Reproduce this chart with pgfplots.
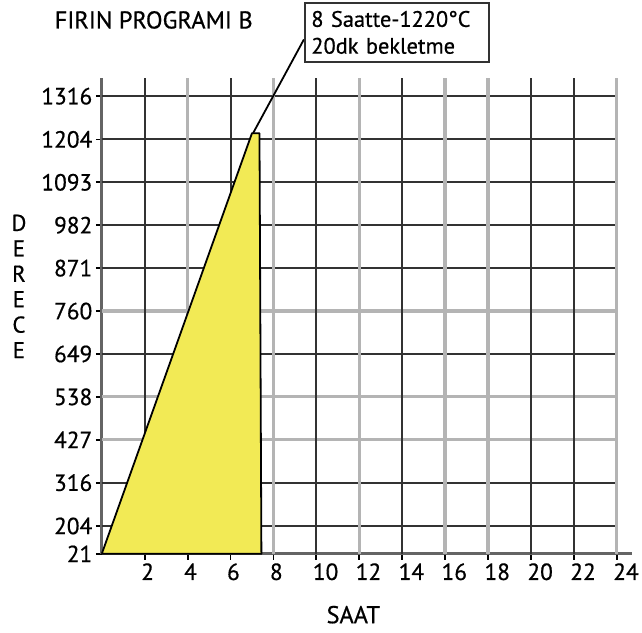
\documentclass[border=0pt]{standalone}
\usepackage{pgfplots}
\pgfplotsset{compat=1.18}
\usepackage{fontspec}
\setmainfont{PT Sans}[FakeBold=0.6]
\definecolor{fillyellow}{RGB}{242,234,85}
\definecolor{darkgrid}{RGB}{50,50,50}
\definecolor{lightgrid}{RGB}{180,180,180}
\definecolor{axisgray}{RGB}{100,100,100}
\tikzset{dk/.style={draw=darkgrid, line width=2bp}, lt/.style={draw=lightgrid, line width=3.2bp}}
\begin{document}
\begin{tikzpicture}
\begin{axis}[
  scale only axis,
  x=21.5bp, y=0.38739bp,
  xmin=0, xmax=24.7, ymin=132, ymax=1363,
  axis lines=left,
  axis line style={-, line width=3bp, draw=axisgray},
  xtick={2,4,...,24},
  ytick={132,204,316,427,538,649,760,871,982,1093,1204,1316},
  yticklabels={21,204,316,427,538,649,760,871,982,1093,1204,1316},
  tick align=outside,
  major tick length=6bp,
  tick style={line width=1.8bp, black},
  /pgf/number format/assume math mode=true,
  tick label style={font=\fontsize{23.5}{25}\selectfont},
  xticklabel style={anchor=north west, xshift=-7bp},
  clip=false,
]
% horizontal grid
\draw[dk] (axis cs:0,204) -- (axis cs:24,204);
\draw[dk] (axis cs:0,316) -- (axis cs:24,316);
\draw[lt] (axis cs:0,427) -- (axis cs:24,427);
\draw[lt] (axis cs:0,538) -- (axis cs:24,538);
\draw[dk] (axis cs:0,649) -- (axis cs:24,649);
\draw[lt] (axis cs:0,760) -- (axis cs:24,760);
\draw[dk] (axis cs:0,871) -- (axis cs:24,871);
\draw[dk] (axis cs:0,982) -- (axis cs:24,982);
\draw[dk] (axis cs:0,1093) -- (axis cs:24,1093);
\draw[dk] (axis cs:0,1204) -- (axis cs:24,1204);
\draw[dk] (axis cs:0,1316) -- (axis cs:24,1316);
% vertical grid
\draw[dk] (axis cs:2,132) -- (axis cs:2,1363);
\draw[lt] (axis cs:4,132) -- (axis cs:4,1363);
\draw[dk] (axis cs:6,132) -- (axis cs:6,1363);
\draw[lt] (axis cs:8,132) -- (axis cs:8,1363);
\draw[dk] (axis cs:10,132) -- (axis cs:10,1363);
\draw[lt] (axis cs:12,132) -- (axis cs:12,1363);
\draw[dk] (axis cs:14,132) -- (axis cs:14,1363);
\draw[lt] (axis cs:16,132) -- (axis cs:16,1363);
\draw[lt] (axis cs:18,132) -- (axis cs:18,1363);
\draw[dk] (axis cs:20,132) -- (axis cs:20,1363);
\draw[dk] (axis cs:22,132) -- (axis cs:22,1363);
\draw[lt] (axis cs:24,132) -- (axis cs:24,1363);
% temperatures in degC; the scale below 204 is compressed as in the original chart
\addplot[fill=fillyellow, draw=black, line width=1.8bp, line join=round, mark=none,
  y filter/.expression={y<204 ? 204-(204-y)*72/183 : y}]
  coordinates {(0,21) (7.0,1220) (7.35,1220) (7.44,21) (0,21)};
\draw[black, line width=1.8bp] (axis cs:7.05,1220) -- ++(51bp,94bp);
\coordinate (O) at (axis cs:0,132);
\end{axis}
\node[font=\fontsize{24.5}{26}\selectfont] at ([shift={(52bp,535bp)}]O) {FIRIN PROGRAMI B};
\node[draw=darkgrid, line width=2.2bp, fill=white, align=left, text width=172bp, inner xsep=6bp,
  minimum height=59bp, font=\fontsize{22.5}{27}\selectfont]
  at ([shift={(296bp,522.5bp)}]O) {8 Saatte-1220°C\\20dk bekletme};
\node[align=center, font=\fontsize{23}{25.6}\selectfont] at ([shift={(-83bp,268bp)}]O) {D\\E\\R\\E\\C\\E};
\node[font=\fontsize{24.5}{26}\selectfont] at ([shift={(252bp,-61bp)}]O) {SAAT};
\path ([shift={(-102bp,-79bp)}]O) rectangle ([shift={(540bp,555bp)}]O);
\end{tikzpicture}
\end{document}
